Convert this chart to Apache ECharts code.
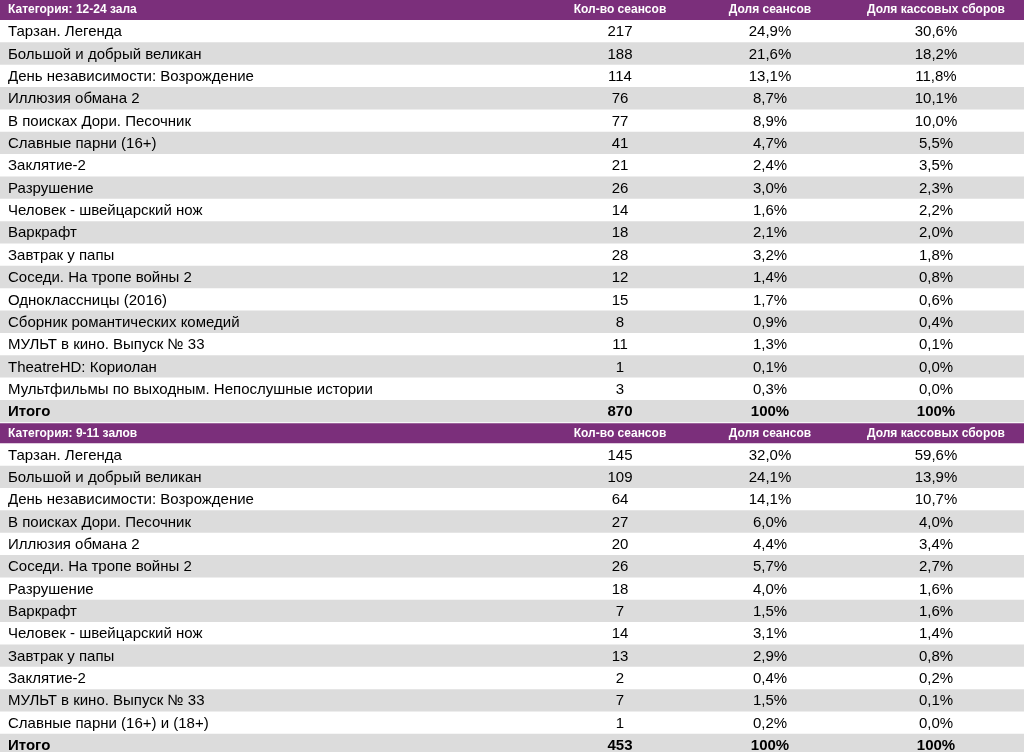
<!DOCTYPE html>
<html><head><meta charset="utf-8">
<script src="https://cdn.jsdelivr.net/npm/echarts@6/dist/echarts.min.js"></script>
<style>html,body{margin:0;padding:0;background:#fff}#c{width:1024px;height:752px}</style>
</head><body><div id="c"></div>
<script>
const headers = ["Кол-во сеансов", "Доля сеансов", "Доля кассовых сборов"];
const title1 = "Категория: 12-24 зала";
const names1 = ["Тарзан. Легенда","Большой и добрый великан","День независимости: Возрождение","Иллюзия обмана 2","В поисках Дори. Песочник","Славные парни (16+)","Заклятие-2","Разрушение","Человек - швейцарский нож","Варкрафт","Завтрак у папы","Соседи. На тропе войны 2","Одноклассницы (2016)","Сборник романтических комедий","МУЛЬТ в кино. Выпуск № 33","TheatreHD: Кориолан","Мультфильмы по выходным. Непослушные истории"];
const sessions1 = [217,188,114,76,77,41,21,26,14,18,28,12,15,8,11,1,3];
const share1 = ["24,9%","21,6%","13,1%","8,7%","8,9%","4,7%","2,4%","3,0%","1,6%","2,1%","3,2%","1,4%","1,7%","0,9%","1,3%","0,1%","0,3%"];
const box1 = ["30,6%","18,2%","11,8%","10,1%","10,0%","5,5%","3,5%","2,3%","2,2%","2,0%","1,8%","0,8%","0,6%","0,4%","0,1%","0,0%","0,0%"];
const total1 = ["Итого","870","100%","100%"];
const title2 = "Категория: 9-11 залов";
const names2 = ["Тарзан. Легенда","Большой и добрый великан","День независимости: Возрождение","В поисках Дори. Песочник","Иллюзия обмана 2","Соседи. На тропе войны 2","Разрушение","Варкрафт","Человек - швейцарский нож","Завтрак у папы","Заклятие-2","МУЛЬТ в кино. Выпуск № 33","Славные парни (16+) и (18+)"];
const sessions2 = [145,109,64,27,20,26,18,7,14,13,2,7,1];
const share2 = ["32,0%","24,1%","14,1%","6,0%","4,4%","5,7%","4,0%","1,5%","3,1%","2,9%","0,4%","1,5%","0,2%"];
const box2 = ["59,6%","13,9%","10,7%","4,0%","3,4%","2,7%","1,6%","1,6%","1,4%","0,8%","0,2%","0,1%","0,0%"];
const total2 = ["Итого","453","100%","100%"];

const W=1024, HH=20, RH=22.35;
const colX=[8,620,770,936];
const FONT='"Liberation Sans", Arial, sans-serif';
const els=[];
let y=0;
function section(title,names,s,sh,bx,tot){
  els.push({type:'rect',shape:{x:0,y:y,width:W,height:HH},style:{fill:'#7b2f7b'}});
  els.push({type:'text',style:{text:title,x:colX[0],y:y+HH/2,textVerticalAlign:'middle',fill:'#fff',font:'bold 12px '+FONT}});
  headers.forEach((h,i)=>els.push({type:'text',style:{text:h,x:colX[i+1],y:y+HH/2,textAlign:'center',textVerticalAlign:'middle',fill:'#fff',font:'bold 12px '+FONT}}));
  y+=HH;
  const rows=names.map((n,i)=>[n,String(s[i]),sh[i],bx[i]]);
  rows.push(tot);
  rows.forEach((r,i)=>{
    const bold=i===rows.length-1;
    if(i%2===1) els.push({type:'rect',shape:{x:0,y:y,width:W,height:RH},style:{fill:'#dcdcdc'}});
    r.forEach((t,j)=>els.push({type:'text',style:{text:t,x:colX[j],y:y+RH/2+1,textAlign:j===0?'left':'center',textVerticalAlign:'middle',fill:'#000',font:(bold?'bold ':'')+'15px '+FONT}}));
    y+=RH;
  });
}
section(title1,names1,sessions1,share1,box1,total1);
y+=1;
section(title2,names2,sessions2,share2,box2,total2);
const chart=echarts.init(document.getElementById('c'));
chart.setOption({animation:false,graphic:{elements:els}});
</script></body></html>
